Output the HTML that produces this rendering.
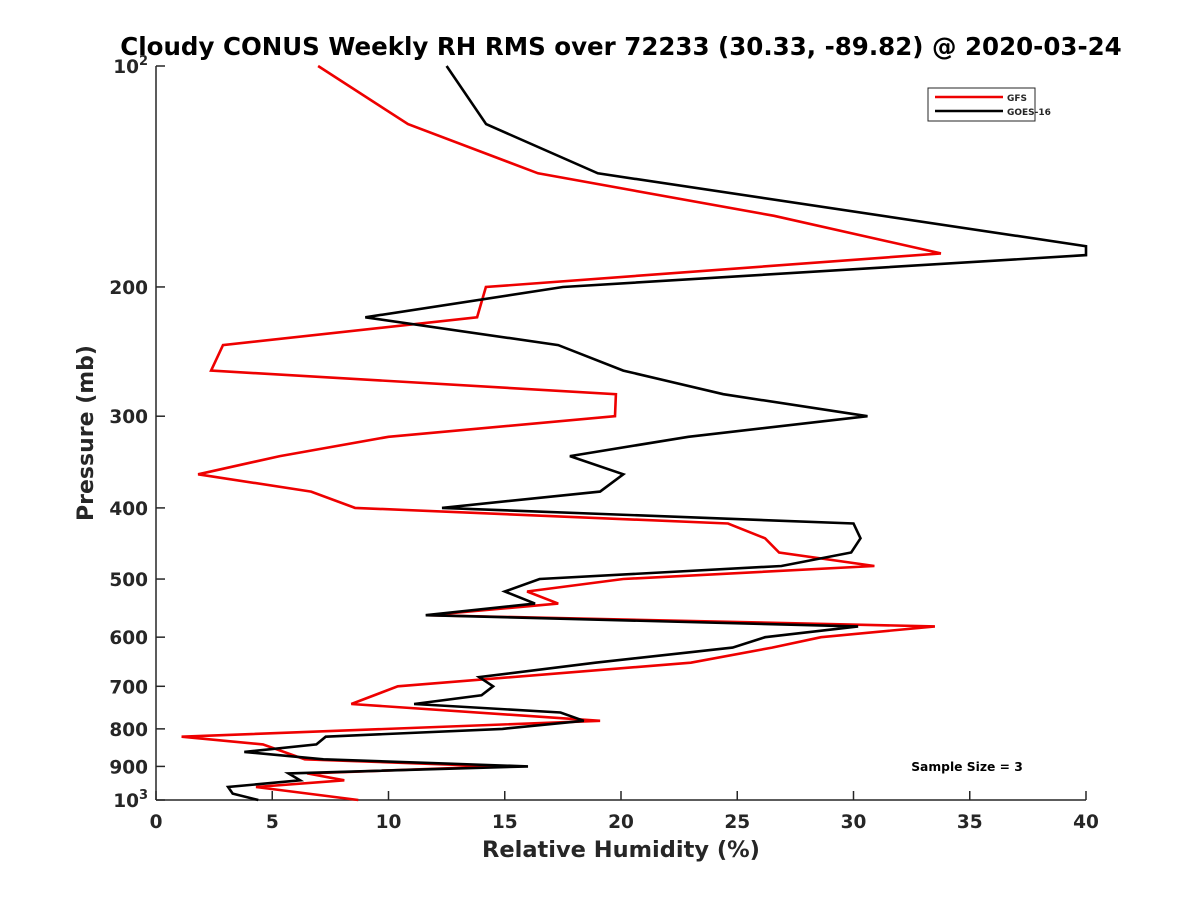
<!DOCTYPE html>
<html><head><meta charset="utf-8"><style>
body{margin:0;background:#fff}
svg text{font-family:"DejaVu Sans","Liberation Sans",sans-serif;font-weight:bold;fill:#262626}
</style></head><body>
<svg id="chart" width="1200" height="900" viewBox="0 0 1200 900" xmlns="http://www.w3.org/2000/svg">
<rect width="1200" height="900" fill="#fff"/>
<text x="621" y="55" font-size="24.5" text-anchor="middle" style="fill:#000">Cloudy CONUS Weekly RH RMS over 72233 (30.33, -89.82) @ 2020-03-24</text>
<g id="axes"></g>
<g id="series"></g>
<g>
<rect x="928" y="88" width="107" height="33" fill="#fff" stroke="#262626" stroke-width="1"/>
<line x1="935" y1="97" x2="1003" y2="97" stroke="#e00" stroke-width="2.5"/>
<text x="1007" y="101" font-size="9">GFS</text>
<line x1="935" y1="111" x2="1003" y2="111" stroke="#000" stroke-width="2.5"/>
<text x="1007" y="115" font-size="9">GOES-16</text>
</g>
<text x="967" y="771" font-size="12.3" text-anchor="middle" style="fill:#000">Sample Size = 3</text>
<text x="621" y="857" font-size="22.5" text-anchor="middle">Relative Humidity (%)</text>
<text transform="translate(93,433) rotate(-90)" font-size="22" text-anchor="middle">Pressure (mb)</text>
</svg>
<script>
const xTicks=[0,5,10,15,20,25,30,35,40];
const yTicks=[100,200,300,400,500,600,700,800,900,1000];
const gfsP=[100,120,140,160,180,200,220,240,260,280,300,320,340,360,380,400,420,440,460,480,500,520,540,560,580,600,620,650,700,740,780,820,840,880,900,920,940,960,1000];
const gfsRH=[6.97,10.84,16.43,26.58,33.76,14.19,13.81,2.88,2.37,19.78,19.74,10.0,5.33,1.81,6.67,8.56,24.6,26.2,26.8,30.9,20.1,15.96,17.3,11.7,33.5,28.6,26.5,23.0,10.4,8.4,19.1,1.1,4.6,6.4,14.8,6.5,8.1,4.3,8.7];
const goesP=[100,120,140,176,181,200,220,240,260,280,300,320,340,360,380,400,420,440,460,480,500,520,540,560,580,600,620,650,680,700,720,740,760,780,800,820,840,860,880,900,920,940,960,980,1000];
const goesRH=[12.5,14.2,19.0,40,40,17.5,9.0,17.3,20.1,24.4,30.6,22.9,17.8,20.1,19.1,12.3,30.0,30.3,29.9,26.9,16.5,15.0,16.3,11.6,30.2,26.2,24.8,18.9,13.9,14.5,14.0,11.1,17.4,18.4,14.9,7.3,6.9,3.8,7.2,16.0,5.7,6.2,3.1,3.3,4.4];
const X0=156,X1=1086,Y0=66,Y1=800;
const xs=v=>X0+(v-0)/(40-0)*(X1-X0);
const ys=p=>Y0+(Math.log10(p)-2)*(Y1-Y0);
const NS="http://www.w3.org/2000/svg";
const ax=document.getElementById('axes'), se=document.getElementById('series');
function mk(tag,attrs,parent){const e=document.createElementNS(NS,tag);for(const k in attrs)e.setAttribute(k,attrs[k]);parent.appendChild(e);return e;}
let l=mk('line',{x1:X0,y1:Y0,x2:X0,y2:Y1,stroke:'#262626','stroke-width':1.5},ax);


l=mk('line',{x1:X0,y1:Y1,x2:X1,y2:Y1,stroke:'#262626','stroke-width':1.5},ax);


xTicks.forEach(v=>{
 const t=mk('line',{x1:xs(v),y1:Y1,x2:xs(v),y2:Y1-9,stroke:'#262626','stroke-width':1.5},ax);
 
 
 const tx=mk('text',{x:xs(v),y:828,'font-size':18.5,'text-anchor':'middle'},ax);
 tx.textContent=v;
 
 
});
yTicks.forEach(p=>{
 const t=mk('line',{x1:X0,y1:ys(p),x2:X0+9,y2:ys(p),stroke:'#262626','stroke-width':1.5},ax);
 
 
 const tx=mk('text',{x:148,y:ys(p)+7,'font-size':18.5,'text-anchor':'end'},ax);
 if(p===100||p===1000){tx.innerHTML='10<tspan font-size="13" dy="-8">'+(p===100?2:3)+'</tspan>';}
 else tx.textContent=p;
 
 
});
function drawLine(P,V,color,name){
 const pts=P.map((p,i)=>xs(V[i]).toFixed(1)+','+ys(p).toFixed(1)).join(' ');
 const pl=mk('polyline',{points:pts,fill:'none',stroke:color,'stroke-width':2.6,'stroke-linejoin':'miter'},se);
 
 
}
drawLine(gfsP,gfsRH,'#e00','gfs-line');
drawLine(goesP,goesRH,'#000','goes16-line');
</script>
</body></html>
